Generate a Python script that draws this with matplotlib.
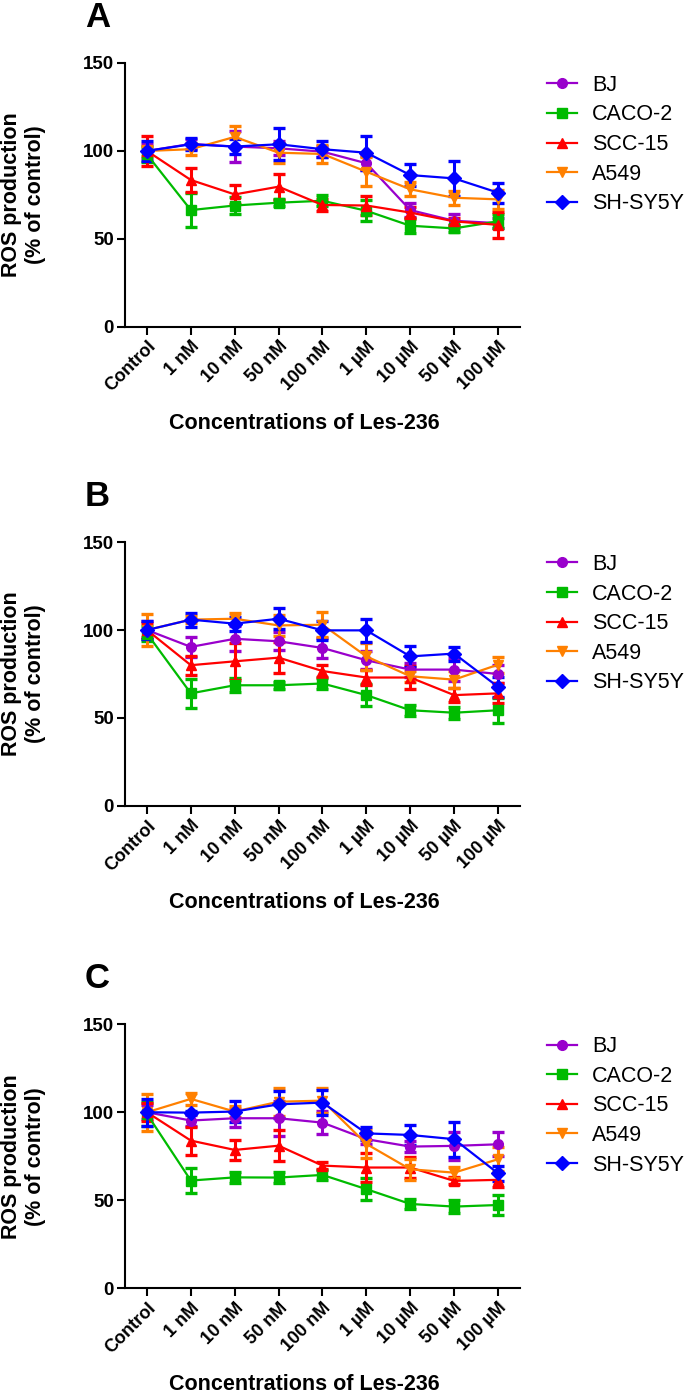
import numpy as np
import matplotlib
matplotlib.use("Agg")
import matplotlib.pyplot as plt

plt.rcParams["font.family"] = ["Liberation Sans", "DejaVu Sans"]

concentrations = ["Control", "1 nM", "10 nM", "50 nM", "100 nM", "1 µM", "10 µM", "50 µM", "100 µM"]
cell_lines = ["BJ", "CACO-2", "SCC-15", "A549", "SH-SY5Y"]
colors = ["#9900CC", "#00BB00", "#FF0000", "#FF8000", "#0000FF"]
markers = ["o", "s", "^", "v", "D"]

# panel A
a_bj = [100, 104, 102.5, 101.5, 99.6, 93, 66.4, 60.3, 59]
a_bj_err = [4, 3, 9, 4, 3, 4, 4, 4, 3]
a_caco = [98, 66.4, 69, 70.6, 71.7, 66, 57.5, 56, 60]
a_caco_err = [4, 9.5, 5, 2, 3, 6, 4, 2, 4]
a_scc = [100, 83.5, 75.3, 79.7, 69.3, 69, 65, 60, 58]
a_scc_err = [8.5, 7, 5.4, 7.4, 3.3, 5.5, 3, 2, 7.5]
a_a549 = [100, 101, 108, 99, 98.3, 88.2, 78.2, 73.4, 72.5]
a_a549_err = [3, 3.5, 6, 5.7, 5, 8.3, 4, 4, 5.5]
a_shsy = [100, 103.8, 102.5, 103.8, 101, 99, 86.3, 84.4, 76.3]
a_shsy_err = [5.7, 3.5, 4.5, 9, 4.5, 9.7, 6.4, 9.9, 5.7]

# panel B
b_bj = [100, 90.4, 95, 93.6, 89.8, 82.8, 77.5, 77.5, 75]
b_bj_err = [5, 5.7, 7, 5, 5.5, 5, 4, 6.5, 5]
b_caco = [98, 64, 68.6, 68.6, 69.6, 63, 54.4, 53, 54.4]
b_caco_err = [4, 8.2, 4, 2, 3, 6.3, 3, 3.5, 7]
b_scc = [100, 80, 82.2, 84.3, 76.7, 73, 73, 63, 64]
b_scc_err = [4, 5.4, 10.4, 8.8, 3.4, 4, 6.6, 4, 5.7]
b_a549 = [100, 105.9, 106.4, 102.6, 103, 85, 73.7, 71.8, 80.3]
b_a549_err = [9, 2, 3, 6, 7, 7.5, 3, 4.7, 4.5]
b_shsy = [100, 105.9, 103.6, 106.4, 99.8, 99.8, 85, 86.6, 67.7]
b_shsy_err = [5, 4, 4, 6, 5.4, 6.6, 6, 4, 5.7]

# panel C
c_bj = [100, 95.3, 96.6, 96.6, 94.1, 84.7, 80.5, 80.9, 81.8]
c_bj_err = [4, 3, 5, 10, 6.5, 3, 3, 7.8, 6.8]
c_caco = [99, 61.2, 63, 62.9, 64.4, 56.3, 47.9, 46.4, 47.3]
c_caco_err = [6.6, 7, 3, 3, 3, 6.2, 3, 3.5, 5.9]
c_scc = [100, 83.9, 78.6, 81, 69.7, 68.6, 68.6, 61, 61.6]
c_scc_err = [5, 8, 5.5, 8.7, 2, 8.3, 6.2, 2, 4]
c_a549 = [100, 107.6, 100.4, 106, 106.6, 82, 67.6, 65.7, 73.3]
c_a549_err = [10.5, 3.5, 3, 8, 7, 8, 6, 3, 6.8]
c_shsy = [100, 99.8, 100.4, 104.5, 105.5, 88, 87.1, 84.7, 65.3]
c_shsy_err = [7.8, 1, 6, 7.6, 7, 3.6, 5.7, 10, 4.2]

panels = [
    ("A", [a_bj, a_caco, a_scc, a_a549, a_shsy], [a_bj_err, a_caco_err, a_scc_err, a_a549_err, a_shsy_err]),
    ("B", [b_bj, b_caco, b_scc, b_a549, b_shsy], [b_bj_err, b_caco_err, b_scc_err, b_a549_err, b_shsy_err]),
    ("C", [c_bj, c_caco, c_scc, c_a549, c_shsy], [c_bj_err, c_caco_err, c_scc_err, c_a549_err, c_shsy_err]),
]
bottoms = [0.7653, 0.4214, 0.0752]

fig = plt.figure(figsize=(6.85, 13.93), dpi=100)
x = np.arange(len(concentrations))

for (letter, means, errs), bottom in zip(panels, bottoms):
    ax = fig.add_axes([0.1825, bottom, 0.5766, 0.1895])
    handles = []
    for name, m, e, c, mk in zip(cell_lines, means, errs, colors, markers):
        msize = 7.5 if mk == "D" else 7
        cont = ax.errorbar(x, m, yerr=e, color=c, marker=mk, markersize=msize, linewidth=1.6,
                           elinewidth=2.2, capsize=4.5, capthick=2.4, label=name)
        handles.append(cont[0])
    ax.set_xlim(-0.5, 8.5)
    ax.set_ylim(0, 150)
    ax.set_yticks([0, 50, 100, 150])
    ax.set_xticks(x)
    ax.set_xticklabels(concentrations, rotation=45, ha="right", rotation_mode="anchor",
                       fontsize=13, fontweight="bold")
    for lbl in ax.get_yticklabels():
        lbl.set_fontsize(13.5)
        lbl.set_fontweight("bold")
    ax.spines["top"].set_visible(False)
    ax.spines["right"].set_visible(False)
    ax.spines["left"].set_linewidth(1.5)
    ax.spines["bottom"].set_linewidth(1.5)
    ax.tick_params(direction="out", length=6, width=1.5, pad=2)
    ax.set_xlabel("Concentrations of Les-236", fontsize=15.5, fontweight="bold")
    ax.xaxis.set_label_coords(0.453, -0.325)
    ax.set_ylabel("ROS production\n(% of control)", fontsize=15.5, fontweight="bold")
    ax.yaxis.set_label_coords(-0.2, 0.5)
    ax.text(-0.102, 1.136, letter, transform=ax.transAxes, fontsize=25, fontweight="bold",
            ha="left", va="baseline")
    ax.legend(handles=handles, labels=cell_lines, loc="upper left", bbox_to_anchor=(1.068, 0.955),
              frameon=False, fontsize=15.5, handlelength=1.4, handletextpad=0.7,
              labelspacing=0.4, borderaxespad=0, borderpad=0)

fig.savefig("out.png", dpi=100)
